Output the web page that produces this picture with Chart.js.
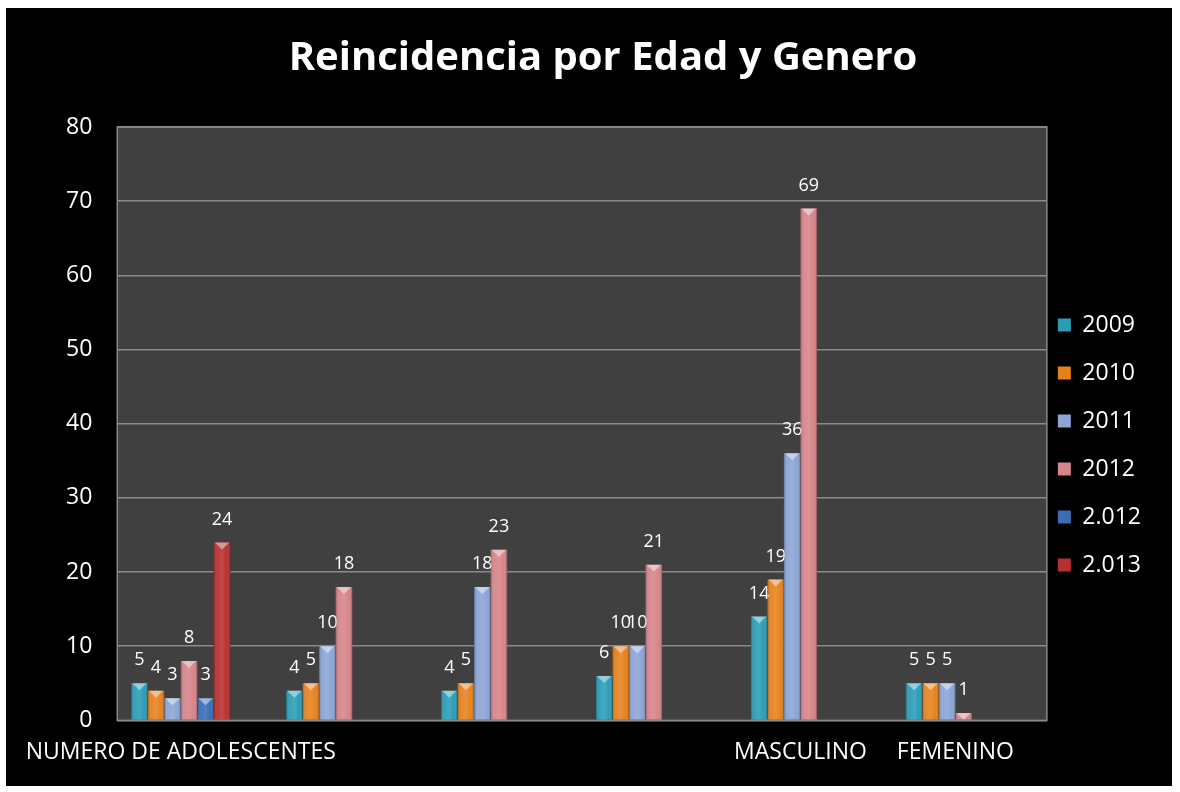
<!DOCTYPE html>
<html lang="es">
<head>
<meta charset="utf-8">
<title>Reincidencia por Edad y Genero</title>
<script src="https://cdn.jsdelivr.net/npm/chart.js"></script>
<style>
  body { margin: 0; background: #fff; }
  #wrap { position: absolute; left: 6px; top: 8px; width: 1166px; height: 778px; background: #000; }
</style>
</head>
<body>
<div id="wrap"><canvas id="chart"></canvas></div>
<script>
// data
const categories = ['NUMERO DE ADOLESCENTES', '', '', '', 'MASCULINO', 'FEMENINO'];
const seriesNames = ['2009', '2010', '2011', '2012', '2.012', '2.013'];
const v2009 = [5, 4, 4, 6, 14, 5];
const v2010 = [4, 5, 5, 10, 19, 5];
const v2011 = [3, 10, 18, 10, 36, 5];
const v2012 = [8, 18, 23, 21, 69, 1];
const v2012b = [3, null, null, null, null, null];
const v2013 = [24, null, null, null, null, null];
const yTicks = [0, 10, 20, 30, 40, 50, 60, 70, 80];

const colors = ['#2b9db6', '#e6821e', '#8ba5d6', '#d7848a', '#3b6db5', '#b8302f'];
const values = [v2009, v2010, v2011, v2012, v2012b, v2013];

const FONT = '"Open Sans", "DejaVu Sans", sans-serif';

// dark plot area behind the bars
const plotBg = {
    id: 'plotBg',
    beforeDraw(chart) {
        const {ctx, chartArea: a} = chart;
        ctx.save();
        ctx.fillStyle = '#404040';
        ctx.fillRect(a.left, a.top, a.width, a.height);
        ctx.restore();
    },
    afterDraw(chart) {
        const {ctx, chartArea: a} = chart;
        ctx.save();
        ctx.strokeStyle = '#8a8a8a';
        ctx.lineWidth = 1.5;
        ctx.strokeRect(a.left, a.top, a.width, a.height);
        ctx.restore();
    }
};

// excel leaves the clusters a bit left of centre, and the legend closer to the plot
const nudge = {
    id: 'nudge',
    afterLayout(chart) {
        const x = chart.scales.x;
        x._startPixel -= 14;
        x._endPixel -= 14;
        chart.legend.left -= 14;
        chart.legend.right -= 14;
    }
};

// bevel shading, top notch and value labels
const barDecor = {
    id: 'barDecor',
    afterDatasetsDraw(chart) {
        const ctx = chart.ctx;
        ctx.save();
        chart.data.datasets.forEach((ds, i) => {
            const meta = chart.getDatasetMeta(i);
            meta.data.forEach((bar, j) => {
                const v = ds.data[j];
                if (v === null || v === undefined) return;
                const w = bar.width, x0 = bar.x - w / 2;
                const h = bar.base - bar.y;
                if (h > 1) {
                    const g = ctx.createLinearGradient(x0, 0, x0 + w, 0);
                    g.addColorStop(0, 'rgba(0,0,0,0.30)');
                    g.addColorStop(0.2, 'rgba(255,255,255,0.05)');
                    g.addColorStop(0.5, 'rgba(255,255,255,0.12)');
                    g.addColorStop(0.8, 'rgba(255,255,255,0.0)');
                    g.addColorStop(1, 'rgba(0,0,0,0.35)');
                    ctx.fillStyle = g;
                    ctx.fillRect(x0, bar.y, w, h);
                    ctx.fillStyle = 'rgba(255,255,255,0.45)';
                    ctx.beginPath();
                    ctx.moveTo(x0 + 1, bar.y);
                    ctx.lineTo(x0 + w - 1, bar.y);
                    ctx.lineTo(bar.x, bar.y + Math.min(7, h));
                    ctx.closePath();
                    ctx.fill();
                }
                ctx.fillStyle = '#fff';
                ctx.font = '18px ' + FONT;
                ctx.textAlign = 'center';
                ctx.textBaseline = 'middle';
                ctx.fillText(String(v), bar.x, bar.y - 23);
            });
        });
        ctx.restore();
    }
};

new Chart(document.getElementById('chart'), {
    type: 'bar',
    data: {
        labels: categories,
        datasets: seriesNames.map((name, i) => ({
            label: name,
            data: values[i],
            backgroundColor: colors[i],
            borderWidth: 0,
            barPercentage: 1,
            categoryPercentage: 0.64
        }))
    },
    options: {
        responsive: true,
        maintainAspectRatio: false,
        animation: false,
        layout: { padding: { left: 35, right: 7, top: 0, bottom: 2 } },
        plugins: {
            title: {
                display: true,
                text: 'Reincidencia por Edad y Genero',
                color: '#fff',
                font: { family: FONT, size: 40, weight: 'bold' },
                padding: { top: 27, bottom: 44 }
            },
            legend: {
                position: 'right',
                align: 'center',
                title: { display: true, text: ' ', font: { size: 10 }, padding: { top: 86, bottom: 0 } },
                labels: {
                    color: '#fff',
                    font: { family: FONT, size: 23 },
                    boxWidth: 13,
                    boxHeight: 13,
                    padding: 25
                }
            },
            tooltip: { enabled: false }
        },
        scales: {
            x: {
                grid: { display: false, drawTicks: false },
                border: { display: false },
                ticks: { color: '#fff', font: { family: FONT, size: 23 }, padding: 18, maxRotation: 0, autoSkip: false }
            },
            y: {
                min: 0,
                max: 80,
                afterBuildTicks(axis) { axis.ticks = yTicks.map(v => ({ value: v })); },
                grid: { color: '#8a8a8a', lineWidth: 1.5, drawTicks: false },
                border: { display: false },
                ticks: { color: '#fff', font: { family: FONT, size: 23 }, padding: 25 }
            }
        }
    },
    plugins: [plotBg, nudge, barDecor]
});
</script>
</body>
</html>
